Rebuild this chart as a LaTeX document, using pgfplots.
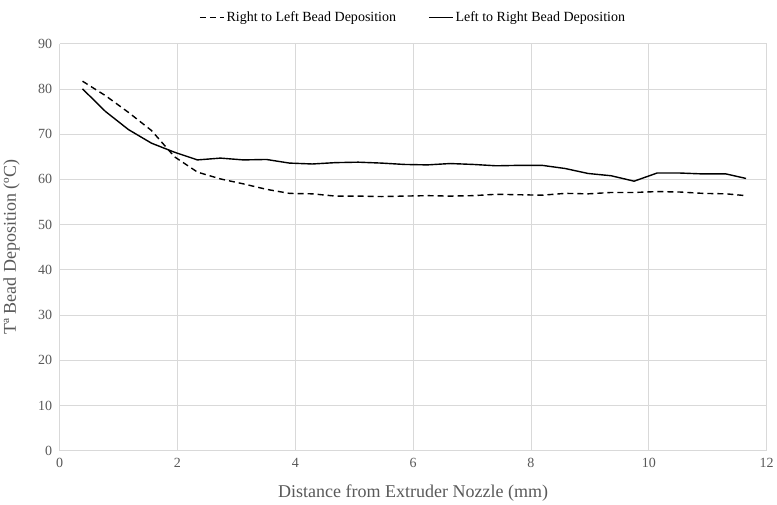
\documentclass[border=0pt]{standalone}
\usepackage{fontspec}
\setmainfont{Liberation Serif}
\usepackage{pgfplots}
\pgfplotsset{compat=1.18}
\definecolor{gridc}{HTML}{D9D9D9}
\definecolor{tickc}{HTML}{595959}
\begin{document}
\begin{tikzpicture}
\begin{axis}[
  scale only axis,
  width=707pt, height=407pt,
  xmin=0, xmax=12, ymin=0, ymax=90,
  xtick={0,2,...,12}, ytick={0,10,...,90},
  grid=major,
  major grid style={gridc, line width=0.8pt},
  axis line style={draw=none},
  axis x line*=bottom, axis y line*=left,
  x axis line style={draw=gridc, line width=0.8pt},
  tick style={draw=none},
  /pgf/number format/assume math mode=true,
  ticklabel style={font=\fontsize{14}{16}\selectfont, text=tickc},
  xticklabel style={yshift=-4pt},
  yticklabel style={xshift=-4pt},
  xlabel={Distance from Extruder Nozzle (mm)},
  ylabel={Tª Bead Deposition (ºC)},
  label style={font=\fontsize{18}{21}\selectfont, text=tickc},
  xlabel style={at={(axis description cs:0.5,-0.103)}, anchor=center},
  ylabel style={at={(axis description cs:-0.068,0.5)}, anchor=center},
  legend style={at={(0.5,1.0)}, anchor=center, yshift=26pt, draw=none, fill=none,
    font=\fontsize{14}{16}\selectfont, legend columns=2,
    /tikz/every even column/.append style={column sep=30pt}},
  legend image code/.code={\draw[#1] (0pt,0pt) -- (24pt,0pt);},
]
\addplot[black, line width=1.4pt, dash pattern=on 6pt off 4pt] coordinates {
(0.39,81.7)(0.78,78.5)(1.17,74.8)(1.56,70.8)(1.95,65.0)(2.34,61.6)(2.73,60.1)(3.12,59.0)(3.51,57.8)(3.90,56.9)
(4.29,56.8)(4.68,56.3)(5.07,56.3)(5.46,56.2)(5.85,56.3)(6.24,56.4)(6.63,56.3)(7.02,56.4)(7.41,56.7)(7.80,56.6)
(8.19,56.5)(8.58,56.9)(8.97,56.8)(9.36,57.1)(9.75,57.1)(10.14,57.3)(10.53,57.2)(10.92,56.9)(11.31,56.8)(11.65,56.4)
};
\addlegendentry{Right to Left Bead Deposition}
\addplot[black, line width=1.4pt] coordinates {
(0.39,80.0)(0.78,75.0)(1.17,71.0)(1.56,68.0)(1.95,66.0)(2.34,64.3)(2.73,64.7)(3.12,64.3)(3.51,64.4)(3.90,63.6)
(4.29,63.4)(4.68,63.7)(5.07,63.8)(5.46,63.6)(5.85,63.3)(6.24,63.2)(6.63,63.5)(7.02,63.3)(7.41,63.0)(7.80,63.1)
(8.19,63.1)(8.58,62.4)(8.97,61.3)(9.36,60.8)(9.75,59.6)(10.14,61.4)(10.53,61.4)(10.92,61.2)(11.31,61.2)(11.65,60.2)
};
\addlegendentry{Left to Right Bead Deposition}
\end{axis}
\path ([yshift=8pt]current bounding box.north);
\end{tikzpicture}
\end{document}
